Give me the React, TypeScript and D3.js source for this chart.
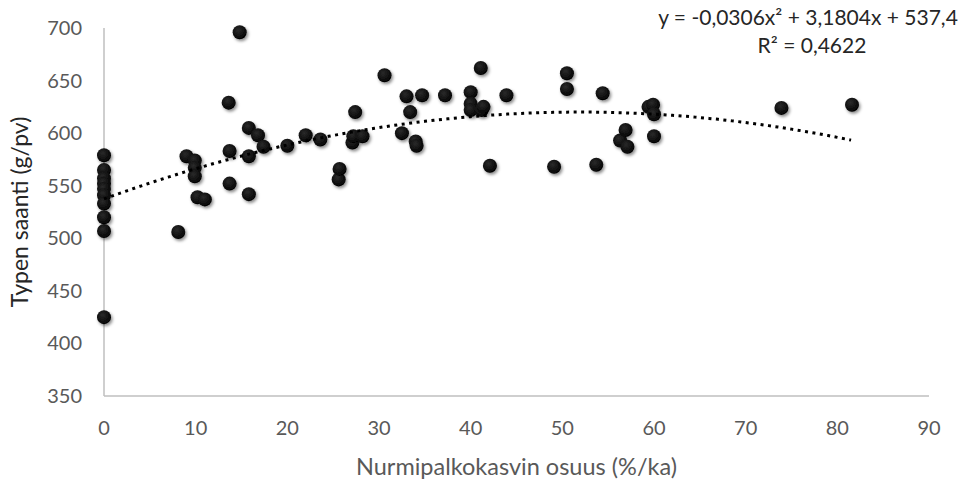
import React from "react";
import * as d3 from "d3";

// Share of forage legumes in dry matter (%) and nitrogen intake (g/day)
const shareX: number[] = [
  0, 0, 0, 0, 0, 0, 0, 0, 0, 0,
  8.1, 9.0, 9.9, 9.9, 9.9, 10.2, 11.0, 13.6, 13.7, 13.7,
  14.8, 15.8, 15.8, 15.8, 16.8, 17.4, 20.0, 22.0, 23.6, 25.6,
  25.7, 27.1, 27.2, 27.4, 28.2, 30.6, 32.5, 33.0, 33.4, 34.0,
  34.1, 34.7, 37.2, 40.0, 40.0, 40.0, 41.1, 41.2, 41.4, 42.1,
  43.9, 49.1, 50.5, 50.5, 53.7, 54.4, 56.3, 56.9, 57.1, 59.4,
  59.9, 60.0, 60.0, 73.9, 81.6,
];
const intakeY: number[] = [
  579, 565, 557, 552, 547, 541, 533, 520, 507, 425,
  506, 578, 574, 567, 559, 539, 537, 629, 583, 552,
  696, 605, 578, 542, 598, 587, 588, 598, 594, 556,
  566, 591, 597, 620, 597, 655, 600, 635, 620, 592,
  588, 636, 636, 639, 628, 622, 662, 622, 625, 569,
  636, 568, 657, 642, 570, 638, 593, 603, 587, 625,
  627, 618, 597, 624, 627,
];

// Polynomial (2nd order) trend coefficients
const trendCoef = { a: -0.0306, b: 3.1804, c: 537.4 };
const equationLines = ["y = -0,0306x² + 3,1804x + 537,4", "R² = 0,4622"];

const xTicks = [0, 10, 20, 30, 40, 50, 60, 70, 80, 90];
const yTicks = [350, 400, 450, 500, 550, 600, 650, 700];
const xTitle = "Nurmipalkokasvin osuus (%/ka)";
const yTitle = "Typen saanti (g/pv)";

const W = 966;
const H = 481;
const plot = { left: 104, right: 929, top: 28, bottom: 396 };
const FONT = "Lato, 'Open Sans', sans-serif";

export default function App() {
  const x = d3.scaleLinear().domain([0, 90]).range([plot.left, plot.right]);
  const y = d3.scaleLinear().domain([350, 700]).range([plot.bottom, plot.top]);

  const xMax = d3.max(shareX) as number;
  const trendPts = d3.range(0, xMax + 0.001, 0.5).map((v) => [
    v,
    trendCoef.a * v * v + trendCoef.b * v + trendCoef.c,
  ]);
  const trendPath = d3
    .line<number[]>()
    .x((d) => x(d[0]))
    .y((d) => y(d[1]))(trendPts) as string;

  const points = shareX.map((v, i) => ({ x: v, y: intakeY[i] }));

  return (
    <svg
      width={W}
      height={H}
      style={{ position: "absolute", left: 0, top: 0, background: "#fff" }}
      fontFamily={FONT}
    >
      <defs>
        <filter id="dotShadow" x="-50%" y="-50%" width="200%" height="200%">
          <feDropShadow dx="1.5" dy="2" stdDeviation="1.6" floodColor="#000" floodOpacity="0.45" />
        </filter>
        <radialGradient id="dotFill" cx="40%" cy="35%" r="70%">
          <stop offset="0%" stopColor="#2a2a2a" />
          <stop offset="100%" stopColor="#000" />
        </radialGradient>
      </defs>

      {/* axes */}
      <line x1={plot.left} x2={plot.left} y1={plot.top} y2={plot.bottom} stroke="#BFBFBF" strokeWidth={1.5} />
      <line x1={plot.left} x2={plot.right} y1={plot.bottom} y2={plot.bottom} stroke="#BFBFBF" strokeWidth={1.5} />

      {/* y tick labels */}
      {yTicks.map((t) => (
        <text key={"y" + t} x={82} y={y(t)} dy="0.35em" textAnchor="end" fontSize={20} fill="#595959">
          {t}
        </text>
      ))}

      {/* x tick labels */}
      {xTicks.map((t) => (
        <text key={"x" + t} x={x(t)} y={428} dy="0.35em" textAnchor="middle" fontSize={20} fill="#595959">
          {t}
        </text>
      ))}

      {/* axis titles */}
      <text x={(plot.left + plot.right) / 2} y={467} dy="0.35em" textAnchor="middle" fontSize={23.5} fill="#595959">
        {xTitle}
      </text>
      <text
        transform={`translate(20,${(plot.top + plot.bottom) / 2}) rotate(-90)`}
        dy="0.35em"
        textAnchor="middle"
        fontSize={23}
        fill="#262626"
      >
        {yTitle}
      </text>

      {/* data points */}
      <g filter="url(#dotShadow)">
        {points.map((p, i) => (
          <circle key={i} cx={x(p.x)} cy={y(p.y)} r={7} fill="url(#dotFill)" />
        ))}
      </g>

      {/* polynomial trend line */}
      <path d={trendPath} fill="none" stroke="#000" strokeWidth={3} strokeDasharray="3 4.5" />

      {/* trend equation */}
      <text x={808} y={18} dy="0.35em" textAnchor="middle" fontSize={21} fill="#262626">
        {equationLines[0]}
      </text>
      <text x={812} y={46} dy="0.35em" textAnchor="middle" fontSize={21} fill="#262626">
        {equationLines[1]}
      </text>
    </svg>
  );
}
